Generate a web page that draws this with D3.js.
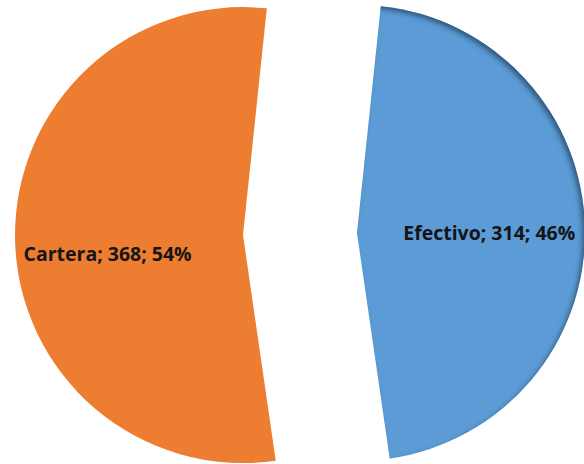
<!DOCTYPE html>
<html>
<head>
<meta charset="utf-8">
<script src="https://cdn.jsdelivr.net/npm/d3@7"></script>
<style>
  html, body { margin: 0; padding: 0; background: #ffffff; }
  svg { display: block; }
</style>
</head>
<body>
<svg id="chart" width="584" height="464"></svg>
<script>
// ---- data ----
const categories = ["Efectivo", "Cartera"];
const values = [314, 368];
const percents = ["46%", "54%"];
const colors = ["#5B9BD5", "#ED7D31"];

// ---- layout ----
const cx = 300, cy = 234;
const radius = 228;
const explode = 57;
const startDeg = 6;

const svg = d3.select("#chart");

const defs = svg.append("defs");
const f = defs.append("filter").attr("id", "innerShadow")
  .attr("x", "-10%").attr("y", "-10%").attr("width", "120%").attr("height", "120%");
f.append("feComponentTransfer").attr("in", "SourceAlpha").attr("result", "inv")
  .append("feFuncA").attr("type", "table").attr("tableValues", "1 0");
f.append("feGaussianBlur").attr("in", "inv").attr("stdDeviation", 2.5).attr("result", "blur");
f.append("feOffset").attr("in", "blur").attr("dx", -3).attr("dy", 3).attr("result", "off");
f.append("feFlood").attr("flood-color", "#1c3552").attr("flood-opacity", 0.8).attr("result", "col");
f.append("feComposite").attr("in", "col").attr("in2", "off").attr("operator", "in").attr("result", "sh");
f.append("feComposite").attr("in", "sh").attr("in2", "SourceAlpha").attr("operator", "in").attr("result", "shIn");
const m = f.append("feMerge");
m.append("feMergeNode").attr("in", "SourceGraphic");
m.append("feMergeNode").attr("in", "shIn");

const start = startDeg * Math.PI / 180;
const pie = d3.pie().sort(null).value(d => d)
  .startAngle(start).endAngle(start + 2 * Math.PI);
const arcs = pie(values);
const arc = d3.arc().innerRadius(0).outerRadius(radius);

// label placement (fraction of radius, angle tweak in degrees, relative to bisector)
const labelFrac = [0.58, 0.60];
const labelAngleAdj = [1.5, -7];
const labelDy = [6.5, 6.5];
const labelWidth = [172, 168];

const g = svg.append("g").attr("transform", `translate(${cx},${cy})`);

arcs.forEach((a, i) => {
  const mid = (a.startAngle + a.endAngle) / 2;
  const ox = Math.sin(mid) * explode;
  const oy = -Math.cos(mid) * explode;
  const sg = g.append("g").attr("transform", `translate(${ox},${oy})`);
  sg.append("path")
    .attr("d", arc(a))
    .attr("fill", colors[i])
    .attr("filter", i === 0 ? "url(#innerShadow)" : null);

  const la = mid + labelAngleAdj[i] * Math.PI / 180;
  const lr = radius * labelFrac[i];
  sg.append("text")
    .attr("x", Math.sin(la) * lr)
    .attr("y", -Math.cos(la) * lr)
    .attr("dy", labelDy[i])
    .attr("text-anchor", "middle")
    .attr("font-family", "'Open Sans', 'Liberation Sans', sans-serif")
    .attr("font-weight", "bold")
    .attr("font-size", 19)
    .attr("fill", "#151515")
    .attr("textLength", labelWidth[i])
    .attr("lengthAdjust", "spacingAndGlyphs")
    .text(`${categories[i]}; ${values[i]}; ${percents[i]}`);
});
</script>
</body>
</html>
